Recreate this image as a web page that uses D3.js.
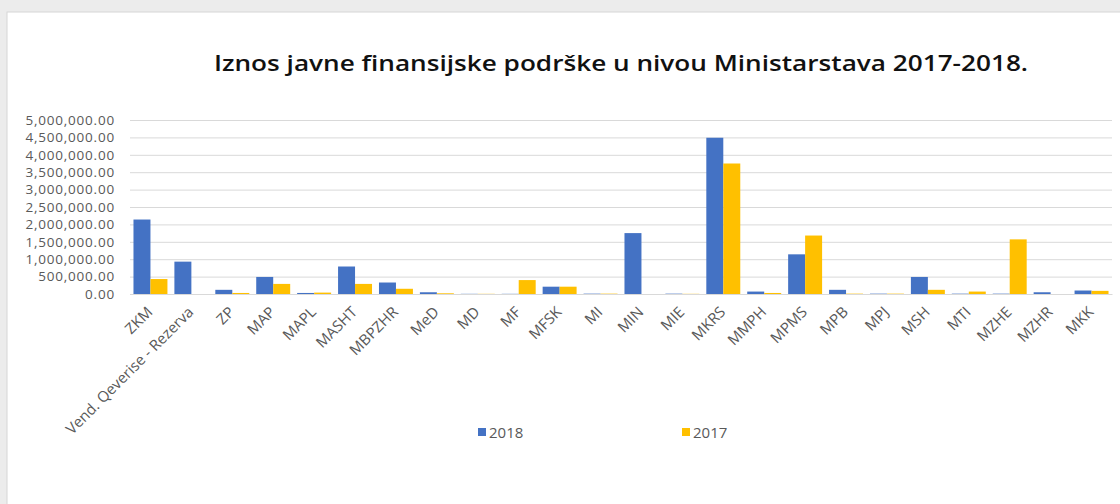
<!DOCTYPE html>
<meta charset="utf-8">
<title>Iznos javne finansijske podrške</title>
<style>

body {
  margin: 0;
  background: #fff;
  font-family: "Open Sans", sans-serif;
}

</style>
<body>
</body>
<script src="https://cdn.jsdelivr.net/npm/d3@7"></script>
<script>

var width = 1120,
    height = 504;

// ministries, in chart order
var categories = ["ZKM", "Vend. Qeverise - Rezerva", "ZP", "MAP", "MAPL", "MASHT",
  "MBPZHR", "MeD", "MD", "MF", "MFSK", "MI", "MIN", "MIE", "MKRS", "MMPH",
  "MPMS", "MPB", "MPJ", "MSH", "MTI", "MZHE", "MZHR", "MKK"];

// values (euro)
var values2018 = [2140000, 930000, 120000, 490000, 30000, 790000,
  330000, 50000, 5000, 5000, 210000, 10000, 1750000, 10000, 4490000, 70000,
  1140000, 120000, 10000, 490000, 10000, 10000, 50000, 100000];
var values2017 = [430000, 0, 30000, 290000, 40000, 290000,
  150000, 20000, 5000, 400000, 210000, 10000, 0, 5000, 3750000, 30000,
  1680000, 10000, 10000, 120000, 70000, 1570000, 0, 90000];

var yTicks = [0, 500000, 1000000, 1500000, 2000000, 2500000, 3000000,
  3500000, 4000000, 4500000, 5000000];

var series = [
  {name: "2018", values: values2018, color: "#4472C4"},
  {name: "2017", values: values2017, color: "#FFC000"}
];

var svg = d3.select("body").append("svg")
    .attr("width", width)
    .attr("height", height);

// grey window edge + frame
svg.append("rect")
    .attr("x", 0).attr("y", 0)
    .attr("width", width).attr("height", height)
    .attr("fill", "#ececec");
svg.append("rect")
    .attr("x", 7).attr("y", 12)
    .attr("width", width).attr("height", height)
    .attr("fill", "#fff")
    .attr("stroke", "#d6d6d6");

var margin = {left: 130, right: 8, top: 120, bottom: 210};

var x = d3.scaleBand()
    .domain(categories)
    .range([margin.left, width - margin.right])
    .paddingInner(0.17)
    .paddingOuter(0.085);

var xs = d3.scaleBand()
    .domain(series.map(function(s) { return s.name; }))
    .range([0, x.bandwidth()]);

var y = d3.scaleLinear()
    .domain([0, 5000000])
    .range([height - margin.bottom, margin.top]);

// title
svg.append("text")
    .attr("x", 214)
    .attr("y", 71)
    .attr("textLength", 814)
    .attr("lengthAdjust", "spacingAndGlyphs")
    .style("font-size", "22px")
    .style("font-weight", "600")
    .attr("fill", "#111")
    .text("Iznos javne finansijske podrške u nivou Ministarstava 2017-2018.");

// y axis with gridlines
var fmt = d3.format(",.2f");
var yAxis = svg.append("g")
    .attr("transform", "translate(" + margin.left + ",0)")
    .call(d3.axisLeft(y)
      .tickValues(yTicks)
      .tickFormat(fmt)
      .tickSize(-(width - margin.right - margin.left))
      .tickPadding(15));
yAxis.select(".domain").remove();
yAxis.selectAll(".tick line").attr("stroke", "#d9d9d9");
yAxis.selectAll(".tick text")
    .attr("fill", "#595959")
    .style("font-family", "'Open Sans', sans-serif")
    .style("font-size", "13.5px")
    .style("letter-spacing", "0.8px");

// bars
var groups = svg.selectAll(".series")
    .data(series)
    .enter().append("g")
    .attr("class", "series")
    .attr("fill", function(s) { return s.color; });

groups.selectAll("rect")
    .data(function(s) {
      return s.values.map(function(v, i) { return {name: s.name, cat: categories[i], v: v}; });
    })
    .enter().append("rect")
    .attr("x", function(d) { return x(d.cat) + xs(d.name); })
    .attr("width", xs.bandwidth())
    .attr("y", function(d) { return y(d.v); })
    .attr("height", function(d) { return y(0) - y(d.v); });

// x axis labels
var xAxis = svg.append("g")
    .attr("transform", "translate(0," + y(0) + ")")
    .call(d3.axisBottom(x).tickSize(0).tickPadding(0));
xAxis.select(".domain").attr("stroke", "#d9d9d9");
xAxis.selectAll(".tick text")
    .attr("text-anchor", "end")
    .attr("dy", 0)
    .attr("transform", "translate(3,19) rotate(-45)")
    .attr("fill", "#595959")
    .style("font-family", "'Open Sans', sans-serif")
    .style("font-size", "15px");

// legend
var legend = svg.selectAll(".legend")
    .data(series)
    .enter().append("g")
    .attr("class", "legend")
    .attr("transform", function(s, i) { return "translate(" + (478 + i * 204) + ",428)"; });

legend.append("rect")
    .attr("width", 8).attr("height", 8)
    .attr("fill", function(s) { return s.color; });

legend.append("text")
    .attr("x", 11)
    .attr("y", 10)
    .attr("fill", "#595959")
    .style("font-size", "15px")
    .text(function(s) { return s.name; });

</script>
